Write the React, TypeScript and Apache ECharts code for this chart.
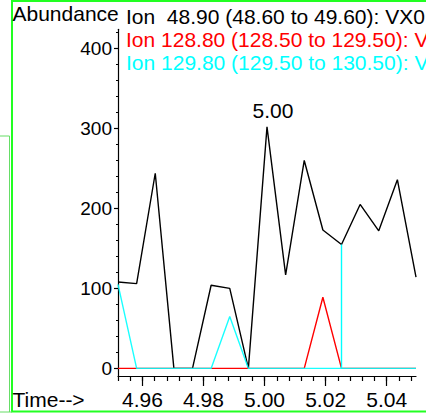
import React, { useEffect, useRef } from "react";
import * as echarts from "echarts";

// Retention times of the scans (min)
const times = [4.952, 4.9581, 4.9642, 4.9703, 4.9764, 4.9825, 4.9886, 4.9947, 5.0008, 5.0069, 5.013, 5.0191, 5.0252, 5.0313, 5.0374, 5.0435, 5.0496];
// Abundances per ion
const ion489 = [108, 106, 244, 0, 0, 104, 100, 0, 302, 117, 260, 173, 155, 205, 172, 236, 114];
const ion1288 = [0, 0, 0, 0, 0, 0, 0, 0, 0, 0, 0, 89, 0, 0, 0, 0, 0];
const ion1298 = [105, 0, 0, 0, 0, 0, 65, 0, 0, 0, 0, 0, 0, 0, 0, 0, 0];
// cyan vertical marker (scan index)
const markerIndex = 12;
const peakIndex = 8;

const ionLabels = [
  "Ion  48.90 (48.60 to 49.60): VX0",
  "Ion 128.80 (128.50 to 129.50): V",
  "Ion 129.80 (129.50 to 130.50): V",
];
const ionColors = ["#000000", "#ff0000", "#00ffff"];

const yMajor = [0, 100, 200, 300, 400];
const yMinor = [0, 20, 40, 60, 80, 100, 120, 140, 160, 180, 200, 220, 240, 260, 280, 300, 320, 340, 360, 380, 400, 420];
const xMajor = [4.96, 4.98, 5.0, 5.02, 5.04];
const xMinor = [4.952, 4.956, 4.96, 4.964, 4.968, 4.972, 4.976, 4.98, 4.984, 4.988, 4.992, 4.996, 5.0, 5.004, 5.008, 5.012, 5.016, 5.02, 5.024, 5.028, 5.032, 5.036, 5.04, 5.044, 5.048];

const X_MIN = 4.952;
const X_MAX = 5.0496;
const Y_MIN = -9.5;
const Y_MAX = 424;

const FONT = "'Liberation Sans', Arial, sans-serif";

export default function App() {
  const ref = useRef<HTMLDivElement>(null);
  useEffect(() => {
    if (!ref.current) return;
    const chart = echarts.init(ref.current, null, { renderer: "svg" });
    const pairs = (arr: number[]) => arr.map((v, i) => [times[i], v]);
    chart.setOption({
      animation: false,
      backgroundColor: "#ffffff",
      grid: { left: 118, top: 29.3, right: 10, bottom: 39 },
      xAxis: [
        {
          type: "value",
          min: X_MIN,
          max: X_MAX,
          position: "bottom",
          axisLine: { show: true, onZero: false, lineStyle: { color: "#000", width: 1.2 } },
          axisTick: { show: true, length: 10, customValues: xMajor, lineStyle: { color: "#000", width: 1.2 } },
          axisLabel: {
            customValues: xMajor,
            formatter: (v: number) => v.toFixed(2),
            fontSize: 21,
            fontFamily: FONT,
            color: "#000",
            margin: 13,
          },
          splitLine: { show: false },
        },
        {
          type: "value",
          min: X_MIN,
          max: X_MAX,
          position: "bottom",
          axisLine: { show: false, onZero: false },
          axisTick: { show: true, length: 5, customValues: xMinor, lineStyle: { color: "#000", width: 1.2 } },
          axisLabel: { show: false },
          splitLine: { show: false },
        },
      ],
      yAxis: [
        {
          type: "value",
          min: Y_MIN,
          max: Y_MAX,
          position: "left",
          axisLine: { show: true, onZero: false, lineStyle: { color: "#000", width: 1.2 } },
          axisTick: { show: true, length: 4, customValues: yMajor, lineStyle: { color: "#000", width: 1.2 } },
          axisLabel: {
            customValues: yMajor,
            fontSize: 19,
            fontFamily: FONT,
            color: "#000",
            margin: 6,
          },
          splitLine: { show: false },
        },
        {
          type: "value",
          min: Y_MIN,
          max: Y_MAX,
          position: "left",
          axisLine: { show: false, onZero: false },
          axisTick: { show: true, length: 2, customValues: yMinor, lineStyle: { color: "#000", width: 1.2 } },
          axisLabel: { show: false },
          splitLine: { show: false },
        },
      ],
      series: [
        {
          name: ionLabels[0],
          type: "line",
          data: pairs(ion489),
          symbol: "none",
          lineStyle: { color: ionColors[0], width: 1.4 },
          itemStyle: { color: ionColors[0] },
          z: 2,
          markPoint: {
            silent: true,
            symbol: "circle",
            symbolSize: 1,
            itemStyle: { color: "rgba(0,0,0,0)" },
            label: {
              show: true,
              position: "top",
              distance: 5,
              offset: [6, 0],
              formatter: () => times[peakIndex].toFixed(2),
              fontSize: 21,
              fontFamily: FONT,
              color: "#000",
            },
            data: [{ coord: [times[peakIndex], ion489[peakIndex]] }],
          },
        },
        {
          name: ionLabels[1],
          type: "line",
          data: pairs(ion1288),
          symbol: "none",
          lineStyle: { color: ionColors[1], width: 1.4 },
          z: 3,
        },
        {
          name: ionLabels[2],
          type: "line",
          data: pairs(ion1298),
          symbol: "none",
          lineStyle: { color: ionColors[2], width: 1.4, opacity: 0.9 },
          z: 4,
          markLine: {
            silent: true,
            symbol: "none",
            label: { show: false },
            lineStyle: { color: ionColors[2], width: 1.4, type: "solid" },
            data: [
              [
                { coord: [times[markerIndex], 0] },
                { coord: [times[markerIndex], ion489[markerIndex]] },
              ],
            ],
          },
        },
      ],
      graphic: [
        {
          type: "rect",
          shape: { x: 12, y: 1, width: 440, height: 410.5 },
          style: { fill: "none", stroke: "#22ff22", lineWidth: 2 },
          silent: true,
        },
        {
          type: "polyline",
          shape: { points: [[0, 136], [9.5, 136], [9.5, 412]] },
          style: { fill: "none", stroke: "#66dd66", lineWidth: 1 },
          silent: true,
        },
        {
          type: "line",
          shape: { x1: 0, y1: 412, x2: 12, y2: 412 },
          style: { stroke: "#66dd66", lineWidth: 1 },
          silent: true,
        },
        {
          type: "text",
          x: 12.5,
          y: 13,
          style: { text: "Abundance", font: `21px ${FONT}`, fill: "#000", textVerticalAlign: "middle" },
        },
        ...ionLabels.map((t, i) => ({
          type: "text",
          x: 126,
          y: 16.5 + i * 23,
          style: { text: t, font: `21px ${FONT}`, fill: ionColors[i], textVerticalAlign: "middle" },
        })),
        {
          type: "text",
          x: 12.5,
          y: 399.5,
          style: { text: "Time-->", font: `21px ${FONT}`, fill: "#000", textVerticalAlign: "middle" },
        },
      ],
    });
    return () => chart.dispose();
  }, []);
  return (
    <div
      ref={ref}
      style={{ position: "absolute", left: 0, top: 0, width: 426, height: 415, overflow: "hidden" }}
    />
  );
}
